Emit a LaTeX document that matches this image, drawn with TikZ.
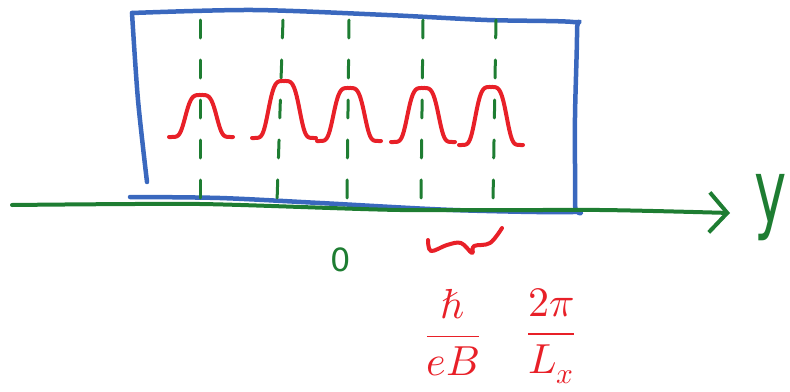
\documentclass[tikz,border=0pt]{standalone}
\usepackage{fontspec}
\usepackage{unicode-math}
\setsansfont{DejaVu Sans}
\usetikzlibrary{arrows.meta}
\definecolor{penblue}{RGB}{58,104,190}
\definecolor{pengreen}{RGB}{30,125,50}
\definecolor{penred}{RGB}{232,32,40}
\begin{document}
\begin{tikzpicture}[x=1pt,y=-1pt,line cap=round,line join=round,
  boxline/.style={draw=penblue,line width=4.5pt},
  axisline/.style={draw=pengreen,line width=4pt},
  guide/.style={draw=pengreen,line width=3pt,dash pattern=on 18pt off 22pt},
  bumpline/.style={draw=penred,line width=4pt},
  greenlabel/.style={text=pengreen,font=\sffamily},
  redlabel/.style={text=penred,inner sep=0pt}]
\useasboundingbox (0,0) rectangle (790,391);

% blue box
\draw[boxline] plot[smooth,tension=0.5] coordinates {(147,182) (138,100) (132,13)};
\draw[boxline] plot[smooth,tension=0.5] coordinates {(132,13) (253,10) (387,15) (487,20) (573,22) (577,30) (575,117) (575,205) (573,212) (453,210) (320,203) (220,198) (130,197)};

% dashed guides
\foreach \xa/\xb in {200/200,283/277,349/347,423/421,496/493}
  \draw[guide] (\xa,20) -- (\xb,202);

% axis
\coordinate (a0) at (12,205);
\coordinate (a1) at (730,213);
\draw[axisline,-{Straight Barb[length=18pt,width=40pt]}] plot[smooth,tension=0.4] coordinates {(12,205) (200,204) (400,210) (600,210) (730,213)};
\node[greenlabel,anchor=west,inner sep=0pt,font=\sffamily\fontsize{88}{88}\selectfont] (ylab) at (754,208) {\scalebox{0.62}[1]{y}};

% red bumps
\foreach \c/\b/\p in {201/137/95,284/138/81,349/141/88,423/142/88,491/145/87}
  \draw[bumpline] plot[domain=-32:32,samples=80,smooth] ({\c+\x},{\b-(\b-\p)*exp(-(\x/17)^4)});

% origin label
\node[greenlabel,font=\sffamily\fontsize{32}{32}\selectfont] (zero) at (341,260) {0};

% red squiggle
\draw[bumpline] plot[smooth,tension=0.6] coordinates {(428,240) (431,251) (447,245) (461,243) (472,253) (474,246) (490,243) (502,228)};

% fraction labels
\node[redlabel,font=\fontsize{42}{46}\selectfont] (f1) at (453,333) {$\displaystyle\frac{\;\hbar\;}{eB}$};
\node[redlabel,font=\fontsize{42}{46}\selectfont] (f2) at (551,336) {$\displaystyle\frac{2\pi}{L_x}$};
\end{tikzpicture}
\end{document}
